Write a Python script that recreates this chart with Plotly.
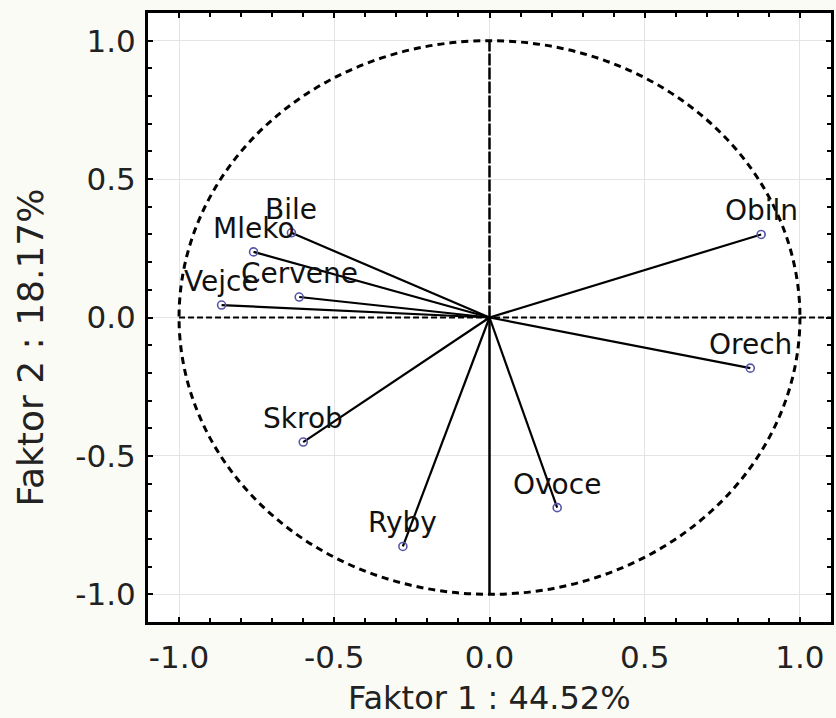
import plotly.graph_objects as go

# Variable names and loadings (Faktor 1, Faktor 2)
names = ["Obiln", "Orech", "Ovoce", "Ryby", "Skrob", "Vejce", "Cervene", "Mleko", "Bile"]
f1 = [0.875, 0.84, 0.218, -0.279, -0.60, -0.863, -0.613, -0.76, -0.638]
f2 = [0.30, -0.183, -0.687, -0.827, -0.45, 0.045, 0.074, 0.237, 0.306]

tick_vals = [-1.0, -0.5, 0.0, 0.5, 1.0]
tick_text = ["-1.0", "-0.5", "0.0", "0.5", "1.0"]
x_title = "Faktor 1 : 44.52%"
y_title = "Faktor 2 : 18.17%"

FONT = "DejaVu Sans"

fig = go.Figure()

# vectors from origin
lx, ly = [], []
for a, b in zip(f1, f2):
    lx += [0, a, None]
    ly += [0, b, None]
fig.add_trace(go.Scatter(x=lx, y=ly, mode="lines",
                         line=dict(color="black", width=2.2),
                         hoverinfo="skip", showlegend=False))

# points
fig.add_trace(go.Scatter(x=f1, y=f2, mode="markers",
                         marker=dict(symbol="circle-open", size=8, color="#5656a8",
                                     line=dict(width=1.6, color="#5656a8")),
                         showlegend=False))

# labels
for n, a, b in zip(names, f1, f2):
    fig.add_annotation(x=a, y=b, text=n, showarrow=False, xanchor="center",
                       yanchor="bottom", yshift=5,
                       font=dict(family=FONT, size=28, color="#111111"))

# unit circle
fig.add_shape(type="circle", x0=-1, x1=1, y0=-1, y1=1, layer="between",
              line=dict(color="black", width=3, dash="7px,5px"))
# horizontal zero line
fig.add_shape(type="line", x0=-1, x1=1.1, y0=0, y1=0, layer="between",
              line=dict(color="black", width=2.2, dash="6px,3px"))
# vertical zero line
fig.add_shape(type="line", x0=0, x1=0, y0=0, y1=1, layer="between",
              line=dict(color="black", width=2.5, dash="12px,2px"))
fig.add_shape(type="line", x0=0, x1=0, y0=-1, y1=0, layer="between",
              line=dict(color="black", width=2.5))

axis_common = dict(
    tickvals=tick_vals, ticktext=tick_text,
    showgrid=True, gridcolor="#e4e4e4", gridwidth=1,
    zeroline=False,
    showline=True, linecolor="black", linewidth=3, mirror="allticks",
    ticks="inside", ticklen=5, tickwidth=2, tickcolor="black",
    minor=dict(dtick=0.1, ticks="inside", ticklen=4, tickwidth=2, tickcolor="black", showgrid=False),
    tickfont=dict(family=FONT, size=31, color="#222222"),
)

fig.update_xaxes(range=[-1.1, 1.1], ticklabelstandoff=6, **axis_common)
fig.update_yaxes(range=[-1.1, 1.1], ticklabelstandoff=3, **axis_common)

# axis titles
fig.add_annotation(xref="paper", yref="paper", x=0.5, y=-0.125, text=x_title,
                   showarrow=False, xanchor="center", yanchor="middle",
                   font=dict(family=FONT, size=32, color="#222222"))
fig.add_annotation(xref="paper", yref="paper", x=-0.172, y=0.45, text=y_title,
                   showarrow=False, xanchor="center", yanchor="middle", textangle=-90,
                   font=dict(family=FONT, size=36, color="#222222"))

fig.update_layout(
    width=836, height=718,
    margin=dict(l=148, r=2, t=13, b=96),
    paper_bgcolor="#fbfbf5", plot_bgcolor="white",
    showlegend=False,
)

fig.write_html("out.html")
